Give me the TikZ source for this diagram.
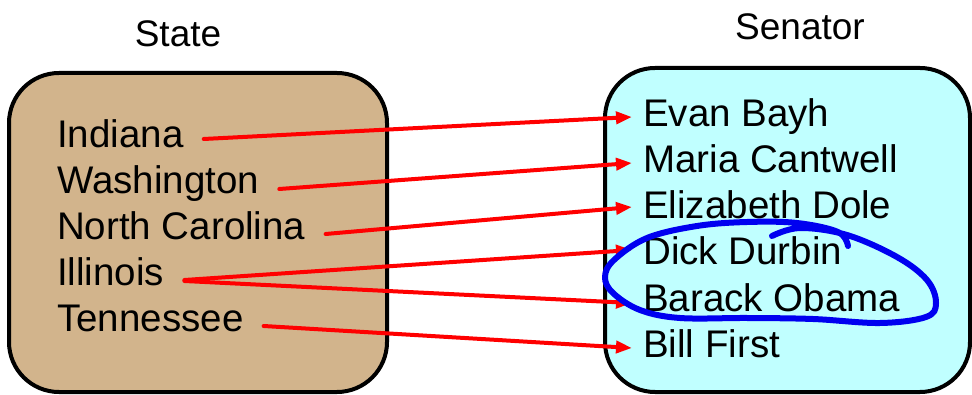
\documentclass[tikz,border=0pt]{standalone}
\usepackage{fontspec}
\setmainfont{Liberation Sans}
\usetikzlibrary{arrows.meta,calc}
\definecolor{statefill}{HTML}{D2B48C}
\definecolor{senfill}{HTML}{C0FFFF}
\definecolor{loopblue}{HTML}{0000F0}
\begin{document}
\begin{tikzpicture}[x=1pt,y=-1pt,
  setbox/.style={draw=black,line width=4pt,rounded corners=50pt},
  title/.style={font=\fontsize{37}{44}\selectfont,anchor=base,inner sep=0pt},
  item/.style={font=\fontsize{38.5}{46}\selectfont,text height=16pt,text depth=0pt,inner ysep=0pt},
  stateitem/.style={item,anchor=base west,inner xsep=20pt},
  senitem/.style={item,anchor=base west,inner xsep=11pt},
  mapsto/.style={draw=red,line width=4pt,line cap=round,-{Triangle[length=16pt,width=12pt,line cap=butt]}}]
\useasboundingbox (0,0) rectangle (972,395);

% the two sets
\draw[setbox,fill=statefill] (9,73) rectangle (387,392);
\draw[setbox,fill=senfill] (605,68) rectangle (970,392);

\node[title] (tstate) at (178,47) {State};
\node[title] (tsen) at (800,40) {Senator};

% domain: states
\node[stateitem] (in) at (37,148) {Indiana};
\node[stateitem] (wa) at (37,194) {Washington};
\node[stateitem] (nc) at (37,240) {North Carolina};
\node[stateitem] (il) at (37,286) {Illinois};
\node[stateitem] (tn) at (37,332) {Tennessee};

% codomain: senators
\node[senitem] (eb) at (632,127) {Evan Bayh};
\node[senitem] (mc) at (632,173) {Maria Cantwell};
\node[senitem] (ed) at (632,219) {Elizabeth Dole};
\node[senitem] (dd) at (632,265) {Dick Durbin};
\node[senitem] (bo) at (632,312) {Barack Obama};
\node[senitem] (bf) at (632,357) {Bill First};

% the mapping
\draw[mapsto] ([yshift=1pt]in.east) -- ([yshift=2pt]eb.west);
\draw[mapsto] ([yshift=-3pt]wa.east) -- ([yshift=2pt]mc.west);
\draw[mapsto] ([yshift=-2pt]nc.east) -- ([yshift=4pt]ed.west);
\draw[mapsto] ([yshift=-2pt]il.east) -- ([yshift=7pt]dd.west);
\draw[mapsto] ([yshift=-3pt]il.east) -- ([yshift=1pt]bo.west);
\draw[mapsto] ([yshift=-2pt]tn.east) -- ([yshift=1pt]bf.west);

% hand-drawn loop around the Illinois senators
\draw[loopblue,line width=6pt,line cap=round,line join=round]
  plot[smooth,tension=0.6] coordinates {
    (772,236) (800,228) (847,235) (897,257) (927,280) (936,303)
    (926,317) (880,323) (813,319) (747,318) (680,318) (640,310)
    (613,293) (605,277) (614,260) (647,238) (697,226) (747,222)
    (797,223) (838,232) (848,246)};
\end{tikzpicture}
\end{document}
